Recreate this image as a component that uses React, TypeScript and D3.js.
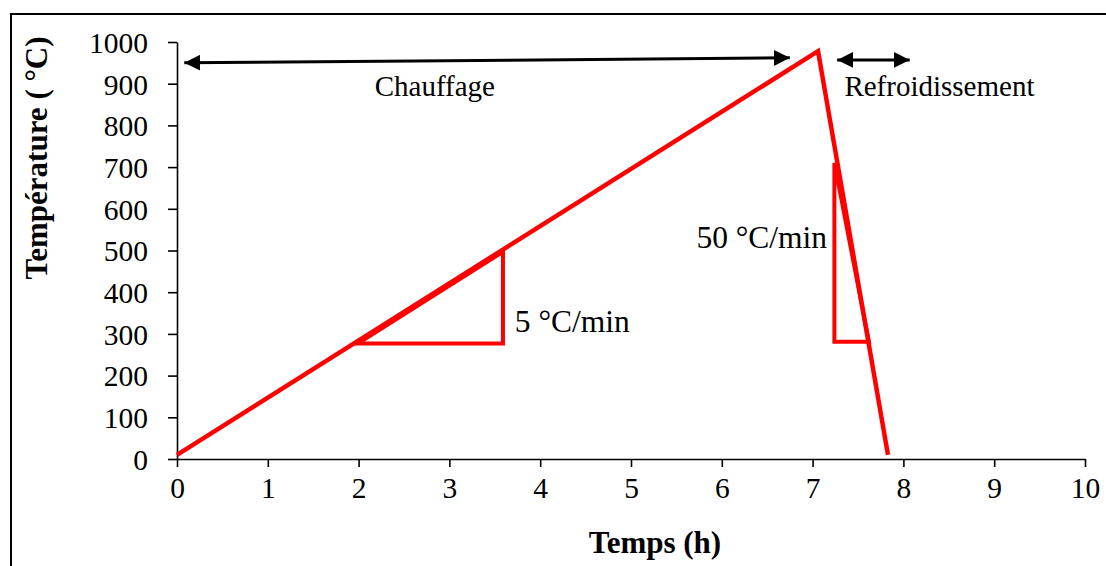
import React, { useEffect, useRef } from "react";
import * as d3 from "d3";

// Temperature profile (time in h, temperature in °C)
const profileTime = [0, 7.06, 7.83];
const profileTemp = [10, 978, 10];

// Slope triangles
const heatTriTime = [1.99, 3.59, 3.59];
const heatTriTemp = [277, 277, 497];
const coolTriTime = [7.24, 7.24, 7.62];
const coolTriTemp = [710, 281, 281];

// Double arrows [t0, T0, t1, T1]
const heatArrow = [0.08, 950, 6.75, 962];
const coolArrow = [7.27, 957, 8.07, 957];

// Annotation labels
const labelTexts = ["Chauffage", "Refroidissement", "5 °C/min", "50 °C/min"];
const labelTime = [2.84, 7.35, 3.72, 5.72];
const labelTemp = [870, 870, 305, 507];
const labelAnchor = ["middle", "start", "start", "start"];
const labelSize = [29, 29, 31.5, 31.5];

const xTicks = [0, 1, 2, 3, 4, 5, 6, 7, 8, 9, 10];
const yTicks = [0, 100, 200, 300, 400, 500, 600, 700, 800, 900, 1000];

const W = 1106;
const H = 566;
const FONT = '"Liberation Serif", "DejaVu Serif", serif';

export default function App() {
  const ref = useRef<SVGSVGElement>(null);

  useEffect(() => {
    const svg = d3.select(ref.current);
    svg.selectAll("*").remove();

    const x = d3.scaleLinear().domain([0, 10]).range([177, 1085]);
    const y = d3.scaleLinear().domain([0, 1000]).range([459, 42]);

    // outer frame
    svg
      .append("path")
      .attr("d", `M11,${H + 5}V14H${W + 5}`)
      .attr("fill", "none")
      .attr("stroke", "#000")
      .attr("stroke-width", 2);

    const defs = svg.append("defs");
    defs
      .append("marker")
      .attr("id", "ah")
      .attr("viewBox", "0 0 16 16")
      .attr("refX", 16)
      .attr("refY", 8)
      .attr("markerWidth", 16)
      .attr("markerHeight", 16)
      .attr("markerUnits", "userSpaceOnUse")
      .attr("orient", "auto-start-reverse")
      .append("path")
      .attr("d", "M0,0L16,8L0,16Z")
      .attr("fill", "#000");

    // axes
    const gy = svg
      .append("g")
      .attr("transform", `translate(${x(0)},0)`)
      .call(
        d3
          .axisLeft(y)
          .tickValues(yTicks)
          .tickSize(9)
          .tickSizeOuter(0)
          .tickPadding(20)
          .tickFormat(d3.format("d"))
      );
    const gx = svg
      .append("g")
      .attr("transform", `translate(0,${y(0)})`)
      .call(
        d3
          .axisBottom(x)
          .tickValues(xTicks)
          .tickSize(8)
          .tickSizeOuter(0)
          .tickPadding(10)
          .tickFormat(d3.format("d"))
      );
    [gx, gy].forEach((g) => {
      g.attr("font-family", null).attr("font-size", null);
      g.selectAll("path, line").attr("stroke", "#000").attr("stroke-width", 1.6);
      g.selectAll("text")
        .attr("fill", "#000")
        .style("font-family", FONT)
        .style("font-size", "29.5px");
    });
    gy.selectAll("text").attr("dy", "0.35em");

    // axis titles
    svg
      .append("text")
      .attr("x", 655)
      .attr("y", 553)
      .attr("text-anchor", "middle")
      .style("font-family", FONT)
      .style("font-size", "31px")
      .style("font-weight", "bold")
      .text("Temps (h)");
    svg
      .append("text")
      .attr("transform", "translate(47,158) rotate(-90)")
      .attr("text-anchor", "middle")
      .style("font-family", FONT)
      .style("font-size", "31px")
      .style("font-weight", "bold")
      .text("Température ( °C)");

    // arrows
    [heatArrow, coolArrow].forEach((a) => {
      svg
        .append("line")
        .attr("x1", x(a[0]))
        .attr("y1", y(a[1]))
        .attr("x2", x(a[2]))
        .attr("y2", y(a[3]))
        .attr("stroke", "#000")
        .attr("stroke-width", 3)
        .attr("marker-start", "url(#ah)")
        .attr("marker-end", "url(#ah)");
    });

    const line = d3
      .line<[number, number]>()
      .x((d) => x(d[0]))
      .y((d) => y(d[1]));

    // triangles
    [
      [heatTriTime, heatTriTemp],
      [coolTriTime, coolTriTemp],
    ].forEach(([ts, Ts]) => {
      const pts = ts.map((t, i) => [t, Ts[i]] as [number, number]);
      svg
        .append("path")
        .attr("d", line(pts) + "Z")
        .attr("fill", "none")
        .attr("stroke", "#ff0000")
        .attr("stroke-width", 4)
        .attr("stroke-linejoin", "miter");
    });

    // main profile
    const prof = profileTime.map((t, i) => [t, profileTemp[i]] as [number, number]);
    svg
      .append("path")
      .attr("d", line(prof))
      .attr("fill", "none")
      .attr("stroke", "#ff0000")
      .attr("stroke-width", 4.5)
      .attr("stroke-linejoin", "miter");

    // labels
    labelTexts.forEach((s, i) => {
      svg
        .append("text")
        .attr("x", x(labelTime[i]))
        .attr("y", y(labelTemp[i]))
        .attr("text-anchor", labelAnchor[i])
        .style("font-family", FONT)
        .style("font-size", `${labelSize[i]}px`)
        .attr("fill", "#000")
        .text(s);
    });
  }, []);

  return (
    <svg
      ref={ref}
      width={W}
      height={H}
      style={{ position: "absolute", left: 0, top: 0, display: "block", background: "#fff" }}
    />
  );
}
